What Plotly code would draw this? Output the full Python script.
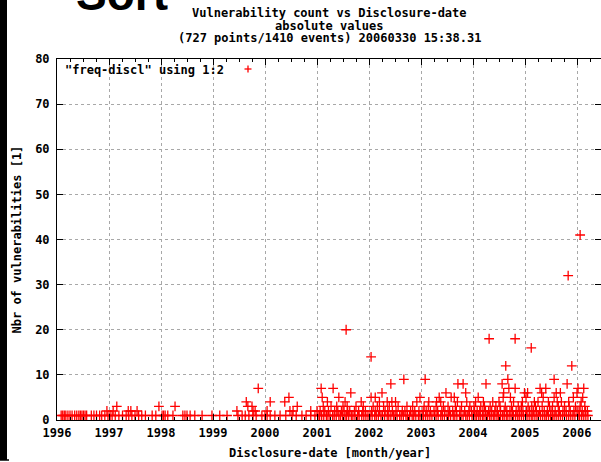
import plotly.graph_objects as go

# ---- data: disclosure dates (decimal year) grouped by vulnerability count ----
dates_cnt1 = [1996.08, 1996.11, 1996.14, 1996.17, 1996.21, 1996.25, 1996.29, 1996.34, 1996.38, 1996.42,
              1996.45, 1996.48, 1996.51, 1996.54, 1996.57, 1996.66, 1996.71, 1996.76, 1996.82, 1996.86,
              1996.92, 1996.98,
              1997.02, 1997.06, 1997.12, 1997.19, 1997.26, 1997.33, 1997.38, 1997.44, 1997.50, 1997.57,
              1997.63, 1997.70, 1997.83, 1997.90,
              1998.02, 1998.05, 1998.08, 1998.13, 1998.23, 1998.42, 1998.46, 1998.50, 1998.56, 1998.65,
              1998.79, 1998.98,
              1999.13, 1999.27, 1999.48, 1999.56, 1999.62, 1999.69, 1999.77, 1999.83, 1999.94,
              2000.00, 2000.04, 2000.10, 2000.19, 2000.29, 2000.40, 2000.52, 2000.60, 2000.71, 2000.79,
              2000.88, 2000.96,
              2001.02, 2001.05, 2001.09, 2001.13, 2001.18, 2001.21, 2001.25, 2001.30, 2001.33, 2001.37,
              2001.42, 2001.45, 2001.49, 2001.54, 2001.57, 2001.61, 2001.66, 2001.69, 2001.73, 2001.78,
              2001.81, 2001.86, 2001.90, 2001.94, 2001.98,
              2002.02, 2002.06, 2002.11, 2002.14, 2002.18, 2002.23, 2002.26, 2002.30, 2002.35, 2002.38,
              2002.42, 2002.47, 2002.50, 2002.54, 2002.59, 2002.62, 2002.66, 2002.71, 2002.74, 2002.78,
              2002.83, 2002.86, 2002.90, 2002.95, 2002.98,
              2003.02, 2003.05, 2003.09, 2003.13, 2003.17, 2003.21, 2003.26, 2003.29, 2003.33, 2003.38,
              2003.41, 2003.45, 2003.50, 2003.53, 2003.57, 2003.62, 2003.65, 2003.69, 2003.74, 2003.77,
              2003.81, 2003.86, 2003.89, 2003.93, 2003.98,
              2004.01, 2004.04, 2004.07, 2004.11, 2004.14, 2004.18, 2004.21, 2004.25, 2004.28, 2004.32,
              2004.35, 2004.39, 2004.42, 2004.46, 2004.49, 2004.53, 2004.57, 2004.60, 2004.64, 2004.67,
              2004.71, 2004.75, 2004.78, 2004.82, 2004.86, 2004.89, 2004.93, 2004.97,
              2005.01, 2005.04, 2005.08, 2005.12, 2005.15, 2005.19, 2005.23, 2005.26, 2005.30, 2005.34,
              2005.38, 2005.41, 2005.45, 2005.49, 2005.53, 2005.56, 2005.60, 2005.64, 2005.68, 2005.72,
              2005.76, 2005.80, 2005.84, 2005.88, 2005.92, 2005.96,
              2006.02, 2006.05, 2006.09, 2006.13, 2006.17, 2006.21]

dates_cnt2 = [1996.96, 1997.08, 1997.37, 1997.42, 1997.54, 1999.46, 1999.77, 1999.81, 2000.04, 2000.48,
              2000.54, 2000.88,
              2001.00, 2001.06, 2001.15, 2001.22, 2001.34, 2001.40, 2001.47, 2001.52, 2001.59, 2001.63,
              2001.72, 2001.80, 2001.88, 2001.93,
              2002.05, 2002.12, 2002.20, 2002.31, 2002.36, 2002.45, 2002.52, 2002.64, 2002.69, 2002.80,
              2002.88, 2002.96,
              2003.04, 2003.10, 2003.18, 2003.25, 2003.32, 2003.40, 2003.46, 2003.55, 2003.61, 2003.68,
              2003.75, 2003.84, 2003.92, 2003.97,
              2004.03, 2004.08, 2004.13, 2004.19, 2004.24, 2004.30, 2004.36, 2004.42, 2004.47, 2004.53,
              2004.60, 2004.65, 2004.71, 2004.76, 2004.83, 2004.90, 2004.96,
              2005.03, 2005.09, 2005.16, 2005.22, 2005.28, 2005.37, 2005.43, 2005.50, 2005.58, 2005.66,
              2005.73, 2005.79, 2005.87, 2005.94,
              2006.00, 2006.04, 2006.10, 2006.16, 2006.20]

dates_cnt3 = [1997.15, 1997.96, 1998.27, 1999.67, 1999.75, 2000.62,
              2001.12, 2001.27, 2001.38, 2001.50, 2001.58, 2001.75, 2001.89,
              2002.08, 2002.16, 2002.28, 2002.39, 2002.56, 2002.73, 2002.84,
              2003.06, 2003.14, 2003.29, 2003.43, 2003.52, 2003.66, 2003.78, 2003.94,
              2004.02, 2004.15, 2004.22, 2004.33, 2004.44, 2004.52, 2004.62, 2004.74, 2004.87, 2004.93,
              2005.06, 2005.13, 2005.20, 2005.33, 2005.47, 2005.53, 2005.64, 2005.76, 2005.85, 2005.97,
              2006.06, 2006.15]

dates_cnt4 = [1999.64, 2000.10, 2000.38, 2001.20, 2001.54, 2001.85, 2002.20, 2002.35, 2002.44, 2002.51,
              2002.92, 2003.15, 2003.30, 2003.38, 2003.70, 2003.88, 2004.05, 2004.20, 2004.38, 2004.50,
              2004.78, 2004.95, 2005.18, 2005.25, 2005.45, 2005.62, 2005.70, 2005.84, 2006.08]

dates_cnt5 = [2000.46, 2001.10, 2001.42, 2002.04, 2002.12, 2002.98, 2003.35, 2003.58, 2003.64, 2004.10,
              2004.58, 2004.72, 2005.02, 2005.35, 2005.56, 2005.93, 2006.11]

dates_cnt6 = [2001.65, 2002.25, 2003.48, 2003.86, 2004.59, 2004.99, 2005.05, 2005.32, 2005.60, 2005.68,
              2006.00]

dates_cnt7 = [1999.87, 2001.08, 2001.31, 2004.69, 2004.81, 2005.29, 2005.40, 2006.02, 2006.13]

dates_cnt8 = [2002.42, 2003.71, 2003.81, 2004.25, 2004.56, 2005.81]

dates_cnt9 = [2002.67, 2003.08, 2004.67, 2005.56]

outlier_dates = [2001.56, 2002.04, 2004.31, 2004.63, 2004.81, 2005.12, 2005.83, 2005.90, 2006.06]
outlier_counts = [20, 14, 18, 12, 18, 16, 32, 12, 41]

year_ticks = [1996, 1997, 1998, 1999, 2000, 2001, 2002, 2003, 2004, 2005, 2006]
count_ticks = [0, 10, 20, 30, 40, 50, 60, 70, 80]

title_lines = ["Vulnerability count vs Disclosure-date",
               "absolute values",
               "(727 points/1410 events) 20060330 15:38.31"]

# ---- assemble ----
x_vals, y_vals = [], []
for cnt, lst in [(1, dates_cnt1), (2, dates_cnt2), (3, dates_cnt3), (4, dates_cnt4), (5, dates_cnt5),
                 (6, dates_cnt6), (7, dates_cnt7), (8, dates_cnt8), (9, dates_cnt9)]:
    x_vals += lst
    y_vals += [cnt] * len(lst)
x_vals += outlier_dates
y_vals += outlier_counts

FONT = "DejaVu Sans Mono"
W, H = 601, 462
L, R, T, B = 57, 0, 59, 42
PW, PH = W - L - R, H - T - B


def px(x):
    return (x - L) / PW


def py(y):
    return (H - B - y) / PH


fig = go.Figure()
fig.add_trace(go.Scatter(
    x=x_vals, y=y_vals, mode="markers",
    marker=dict(symbol="cross-thin", size=7, color="red",
                line=dict(color="red", width=1.3)),
    showlegend=False, hoverinfo="x+y"))

axis_common = dict(
    showline=True, linecolor="black", linewidth=1, mirror="allticks",
    ticks="inside", ticklen=6, tickcolor="black", tickwidth=1,
    showgrid=True, gridcolor="#a8a8a8", griddash="dot", gridwidth=1,
    zeroline=False,
    tickfont=dict(family=FONT, size=12, color="black", weight="bold"),
)

fig.update_xaxes(range=[1996, 1996 + PW / 52.0], tickvals=year_ticks,
                 ticktext=[str(v) for v in year_ticks],
                 minor=dict(dtick=0.25, tick0=1996, ticks="inside", ticklen=3,
                            tickcolor="black", showgrid=False),
                 ticklabelstandoff=2, **axis_common)
fig.update_yaxes(range=[0, 80], tickvals=count_ticks, ticktext=[str(v) for v in count_ticks],
                 ticklabelstandoff=4, **axis_common)

annotations = []
for i, (line, ypx) in enumerate(zip(title_lines, [13, 26, 38])):
    annotations.append(dict(text=line, x=px(329), y=py(ypx), xref="paper", yref="paper",
                            xanchor="center", yanchor="middle", showarrow=False,
                            font=dict(family=FONT, size=12, color="black", weight="bold")))
annotations.append(dict(text="Disclosure-date [month/year]", x=px(330), y=py(453), xref="paper",
                        yref="paper", xanchor="center", yanchor="middle", showarrow=False,
                        font=dict(family=FONT, size=12, color="black", weight="bold")))
annotations.append(dict(text="Nbr of vulnerabilities [1]", x=px(16), y=0.5, xref="paper",
                        yref="paper", xanchor="center", yanchor="middle", textangle=-90,
                        showarrow=False,
                        font=dict(family=FONT, size=12, color="black", weight="bold")))
annotations.append(dict(text='"freq-discl" using 1:2', x=px(63), y=py(70), xref="paper",
                        yref="paper", xanchor="left", yanchor="middle", showarrow=False,
                        font=dict(family=FONT, size=12, color="black", weight="bold")))
annotations.append(dict(text="Sort", x=px(74), y=py(22), xref="paper", yref="paper",
                        xanchor="left", yanchor="bottom", showarrow=False,
                        font=dict(family="Liberation Sans", size=46, color="black", weight="bold")))

shapes = [
    # key sample "+"
    dict(type="line", xref="paper", yref="paper", x0=px(244.5), x1=px(251.5), y0=py(69), y1=py(69),
         line=dict(color="red", width=1.3)),
    dict(type="line", xref="paper", yref="paper", x0=px(248), x1=px(248), y0=py(65.5), y1=py(72.5),
         line=dict(color="red", width=1.3)),
    # black bar at the left edge of the page
    dict(type="rect", xref="paper", yref="paper", x0=px(0), x1=px(7), y0=py(460), y1=py(0),
         fillcolor="black", line=dict(width=0)),
    dict(type="line", xref="paper", yref="paper", x0=px(0), x1=px(9), y0=py(460), y1=py(460),
         line=dict(color="black", width=1.5)),
]

fig.update_layout(
    width=W, height=H,
    margin=dict(l=L, r=R, t=T, b=B, pad=0),
    paper_bgcolor="white", plot_bgcolor="white",
    annotations=annotations, shapes=shapes,
    showlegend=False,
)

fig.write_html("out.html")
